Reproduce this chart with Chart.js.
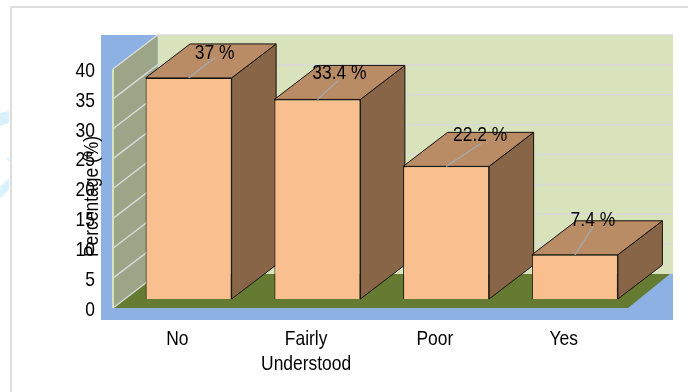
<!DOCTYPE html>
<html>
<head>
<meta charset="utf-8">
<title>Percentage chart</title>
<script src="https://cdn.jsdelivr.net/npm/chart.js@4/dist/chart.umd.min.js"></script>
<style>
    html, body { margin: 0; padding: 0; background: #fff; overflow: hidden; }
    canvas { display: block; }
</style>
</head>
<body>
<canvas id="myChart" width="688" height="392"></canvas>
<script>
const categories = [['No'], ['Fairly', 'Understood'], ['Poor'], ['Yes']];
const percentages = [37, 33.4, 22.2, 7.4];
const axisTitle = 'Percentage (%)';

const fontFamily = "'Liberation Sans', Arial, sans-serif";
const textSqueeze = 0.83; // no narrow face installed, so text is squeezed sideways

// depth of the fake 3D box, and how far the bars sit back from the front edge
const depthX = 44.5, depthY = 34;
const insetX = 11.25, insetY = 9;

// where each value label and its leader line end, relative to the bar's top front centre
const leaderEnds = [[26, -20], [21, -19], [35, -23], [18, -28]];
const labelGaps = [[0, -5], [1, -7], [-1, -8], [0, -7]];

function poly(ctx, points, fill, stroke, lineWidth) {
    ctx.beginPath();
    points.forEach((p, i) => i ? ctx.lineTo(p[0], p[1]) : ctx.moveTo(p[0], p[1]));
    ctx.closePath();
    if (fill) {
        ctx.fillStyle = fill;
        ctx.fill();
    }
    if (stroke) {
        ctx.strokeStyle = stroke;
        ctx.lineWidth = lineWidth || 1;
        ctx.stroke();
    }
}

function narrowText(ctx, text, x, y, align, angle) {
    ctx.save();
    ctx.translate(x, y);
    if (angle) ctx.rotate(angle);
    ctx.scale(textSqueeze, 1);
    ctx.font = '21px ' + fontFamily;
    ctx.fillStyle = '#000';
    ctx.textAlign = align;
    ctx.textBaseline = 'middle';
    ctx.fillText(text, 0, 0);
    ctx.restore();
}

const boxPlugin = {
    id: 'box3d',
    beforeDraw(chart) {
        const ctx = chart.ctx;
        const area = chart.chartArea;
        const yScale = chart.scales.y;
        const backLeft = area.left + depthX;
        const backBottom = area.bottom - depthY;
        const wallRight = 673;

        ctx.save();
        ctx.fillStyle = '#fff';
        ctx.fillRect(0, 0, chart.width, chart.height);

        // bits of the page background left of the frame
        poly(ctx, [[0, 113], [9, 111], [9, 123], [0, 126]], '#d8f1fc');
        poly(ctx, [[0, 187], [9, 178], [9, 190], [0, 198]], '#d8f1fc');
        poly(ctx, [[7, 158], [9, 157], [9, 161], [7, 160]], '#d8f1fc');

        // frame
        ctx.fillStyle = '#dcdcdc';
        ctx.fillRect(10, 6, chart.width - 10, 2);
        ctx.fillRect(10, 6, 2, chart.height - 6);

        // walls and floor
        ctx.fillStyle = '#8db1e3';
        ctx.fillRect(101, 35, wallRight - 101, 285);
        ctx.fillStyle = '#d8e3bc';
        ctx.fillRect(backLeft, area.top - depthY, wallRight - backLeft, area.bottom - area.top);
        poly(ctx, [[area.left, area.top], [backLeft, area.top - depthY], [backLeft, backBottom], [area.left, area.bottom]], '#9ca588');
        poly(ctx, [[area.left, area.bottom], [backLeft, backBottom], [670, backBottom], [area.right, area.bottom]], '#667b32');

        // left edge of the side wall
        ctx.strokeStyle = '#d8e3bc';
        ctx.lineWidth = 2;
        ctx.beginPath();
        ctx.moveTo(area.left, area.top);
        ctx.lineTo(area.left, area.bottom);
        ctx.stroke();

        // gridlines run across the side wall and then the back wall
        ctx.strokeStyle = '#d9d9d9';
        ctx.lineWidth = 1.5;
        yScale.ticks.forEach(t => {
            const py = yScale.getPixelForValue(t.value);
            ctx.beginPath();
            ctx.moveTo(area.left, py);
            ctx.lineTo(backLeft, py - depthY);
            if (t.value > 0) ctx.lineTo(wallRight, py - depthY);
            ctx.stroke();
        });
        ctx.restore();
    },
    beforeDatasetsDraw(chart) {
        const ctx = chart.ctx;
        const bars = chart.getDatasetMeta(0).data;
        const edge = '#14110b';

        ctx.save();
        ctx.translate(insetX, -insetY);
        ctx.lineJoin = 'round';
        bars.forEach(bar => {
            const l = bar.x - bar.width / 2, r = bar.x + bar.width / 2;
            poly(ctx, [[r, bar.y], [r + depthX, bar.y - depthY], [r + depthX, bar.base - depthY], [r, bar.base]], '#876546', edge);
            poly(ctx, [[l, bar.y], [l + depthX, bar.y - depthY], [r + depthX, bar.y - depthY], [r, bar.y]], '#b98c66', edge);
        });
        ctx.restore();

        // the fronts get drawn by the library, pushed back with the same offset
        ctx.save();
        ctx.translate(insetX, -insetY);
    },
    afterDatasetsDraw(chart) {
        const ctx = chart.ctx;
        const bars = chart.getDatasetMeta(0).data;
        const xScale = chart.scales.x;
        const yScale = chart.scales.y;
        ctx.restore();

        ctx.save();
        bars.forEach((bar, i) => {
            const x0 = bar.x + insetX, y0 = bar.y - insetY;
            const x1 = x0 + leaderEnds[i][0], y1 = y0 + leaderEnds[i][1];

            ctx.strokeStyle = '#a6a6a6';
            ctx.lineWidth = 1.5;
            ctx.beginPath();
            ctx.moveTo(x0, y0);
            ctx.lineTo(x1, y1);
            ctx.stroke();

            narrowText(ctx, percentages[i] + ' %', x1 + labelGaps[i][0], y1 + labelGaps[i][1], 'center');
        });
        ctx.restore();

        // tick labels come off the scales
        yScale.ticks.forEach(t => {
            narrowText(ctx, String(t.value), 95, yScale.getPixelForValue(t.value) + 2, 'right');
        });
        xScale.ticks.forEach((t, i) => {
            categories[i].forEach((line, n) => {
                narrowText(ctx, line, xScale.getPixelForTick(i), 339 + n * 25, 'center');
            });
        });

        // rotated axis title, it overlaps the tick labels
        narrowText(ctx, axisTitle, 92, 196.5, 'center', -Math.PI / 2);
    }
};

const ctx = document.getElementById('myChart');

const myChart = new Chart(ctx, {
    type: 'bar',
    data: {
        labels: categories,
        datasets: [{
            label: axisTitle,
            data: percentages,
            backgroundColor: '#fabf8f',
            borderColor: '#14110b',
            borderWidth: 1,
            categoryPercentage: 1,
            barPercentage: 0.668,
            clip: false
        }]
    },
    options: {
        responsive: false,
        animation: false,
        layout: {
            padding: { top: 69, right: 60, bottom: 0, left: 0 }
        },
        plugins: {
            legend: { display: false },
            tooltip: { enabled: false }
        },
        scales: {
            x: {
                grid: { display: false },
                border: { display: false },
                ticks: { display: false },
                afterFit: (scale) => { scale.height = 84; }
            },
            y: {
                min: 0,
                max: 40,
                grid: { display: false },
                border: { display: false },
                ticks: { display: false, stepSize: 5 },
                afterFit: (scale) => { scale.width = 113; }
            }
        }
    },
    plugins: [boxPlugin]
});
</script>
</body>
</html>
